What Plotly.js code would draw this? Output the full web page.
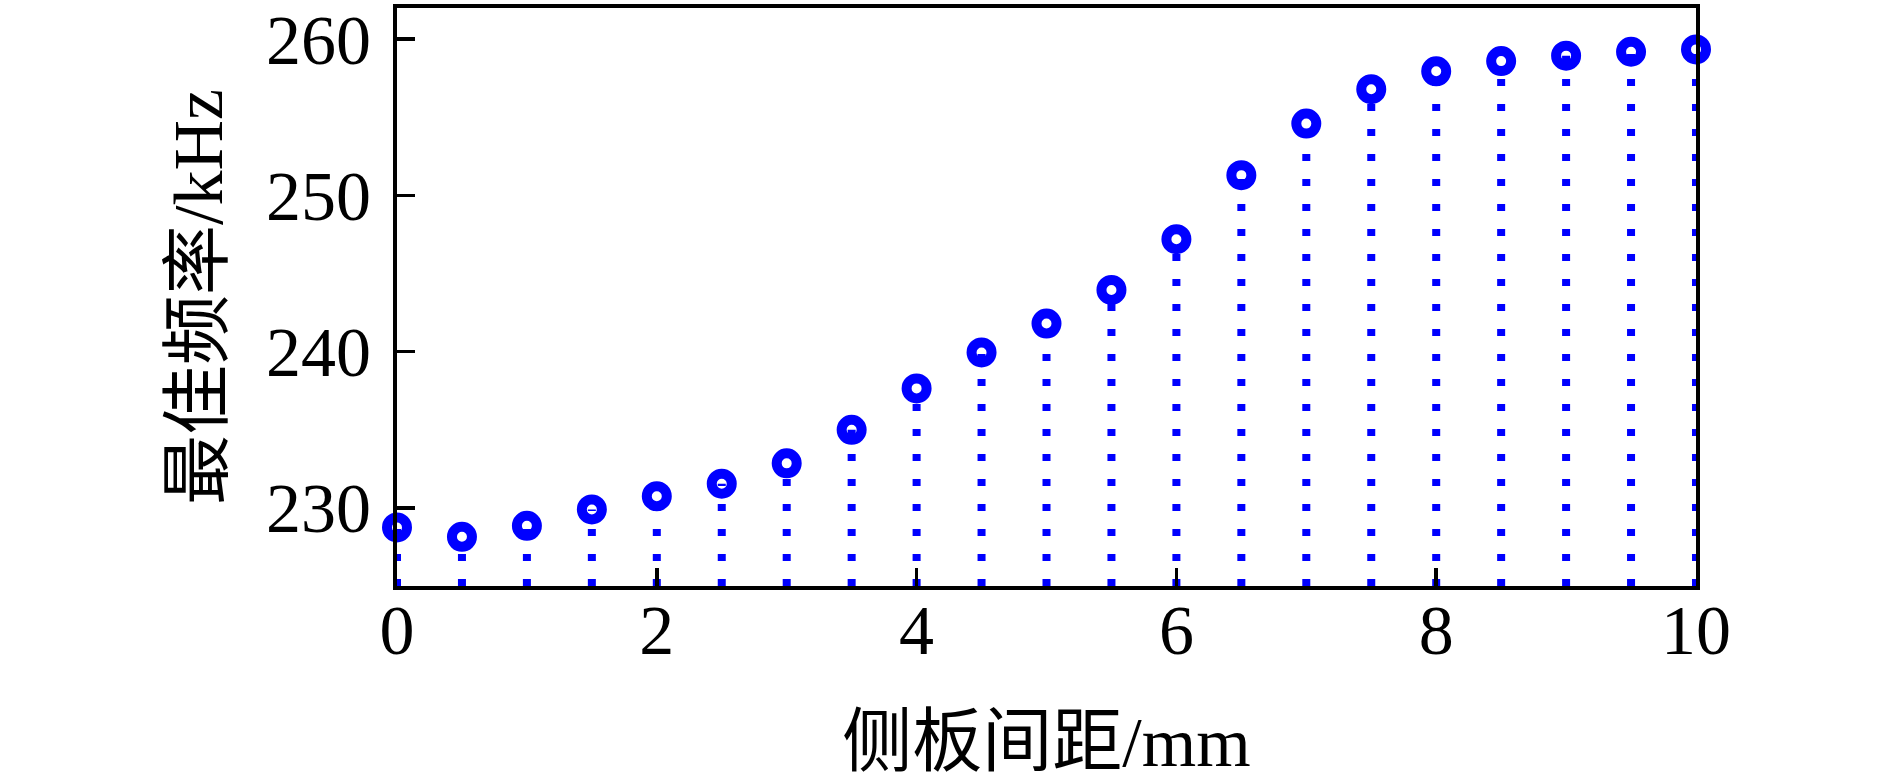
<!DOCTYPE html>
<html>
<head>
<meta charset="utf-8">
<script src="https://cdn.plot.ly/plotly-3.0.1.min.js"></script>
<style>
  html, body { margin: 0; padding: 0; background: #fff; }
  #chart { width: 1890px; height: 781px; }
</style>
</head>
<body>
<div id="chart"></div>
<script>
// side plate spacing (mm) and optimum frequency (kHz)
const spacing = [0, 0.5, 1, 1.5, 2, 2.5, 3, 3.5, 4, 4.5, 5, 5.5, 6, 6.5, 7, 7.5, 8, 8.5, 9, 9.5, 10];
const freq = [228.75, 228.15, 228.85, 229.9, 230.75, 231.55, 232.85, 235.0, 237.65, 239.95, 241.8,
              243.95, 247.2, 251.3, 254.6, 256.8, 257.95, 258.6, 258.95, 259.2, 259.35];
const yTicks = [230, 240, 250, 260];
const yBase = 225;

// stems: one segment per point, from the axis floor up to the value
const stemX = [], stemY = [];
spacing.forEach((s, i) => {
  stemX.push(s, s, null);
  stemY.push(yBase, freq[i], null);
});

const font = 'Liberation Serif, Times New Roman, Noto Sans CJK SC, serif';

const stems = {
  x: stemX, y: stemY,
  type: 'scatter', mode: 'lines',
  line: { color: '#0000ff', width: 8, dash: '7px,18px' },
  cliponaxis: false,
  hoverinfo: 'skip'
};

const points = {
  x: spacing, y: freq,
  type: 'scatter', mode: 'markers',
  marker: { symbol: 'circle-open', size: 20, color: '#0000ff', line: { width: 10, color: '#0000ff' } },
  cliponaxis: false
};

const axisCommon = {
  showgrid: false, zeroline: false,
  showline: true, linecolor: '#000', linewidth: 4, mirror: true,
  ticks: 'inside', ticklen: 18, tickwidth: 3.5, tickcolor: '#000',
  tickfont: { family: font, size: 70, color: '#000' }
};

const layout = {
  width: 1890, height: 781,
  margin: { l: 397, r: 194, t: 8, b: 195 },
  paper_bgcolor: '#fff', plot_bgcolor: '#fff',
  showlegend: false,
  font: { family: font, color: '#000' },
  xaxis: Object.assign({}, axisCommon, {
    range: [0, 10], dtick: 2, tick0: 0, ticklabelstandoff: -20,
    title: { text: '侧板间距/mm', font: { family: font, size: 70, color: '#000' }, standoff: 52 }
  }),
  yaxis: Object.assign({}, axisCommon, {
    range: [225, 262], tickmode: 'array', tickvals: yTicks, ticklabelstandoff: 8,
    title: { text: '最佳频率/kHz', font: { family: font, size: 70, color: '#000' }, standoff: 22 }
  })
};

Plotly.newPlot('chart', [stems, points], layout, { displayModeBar: false, staticPlot: true });
</script>
</body>
</html>
